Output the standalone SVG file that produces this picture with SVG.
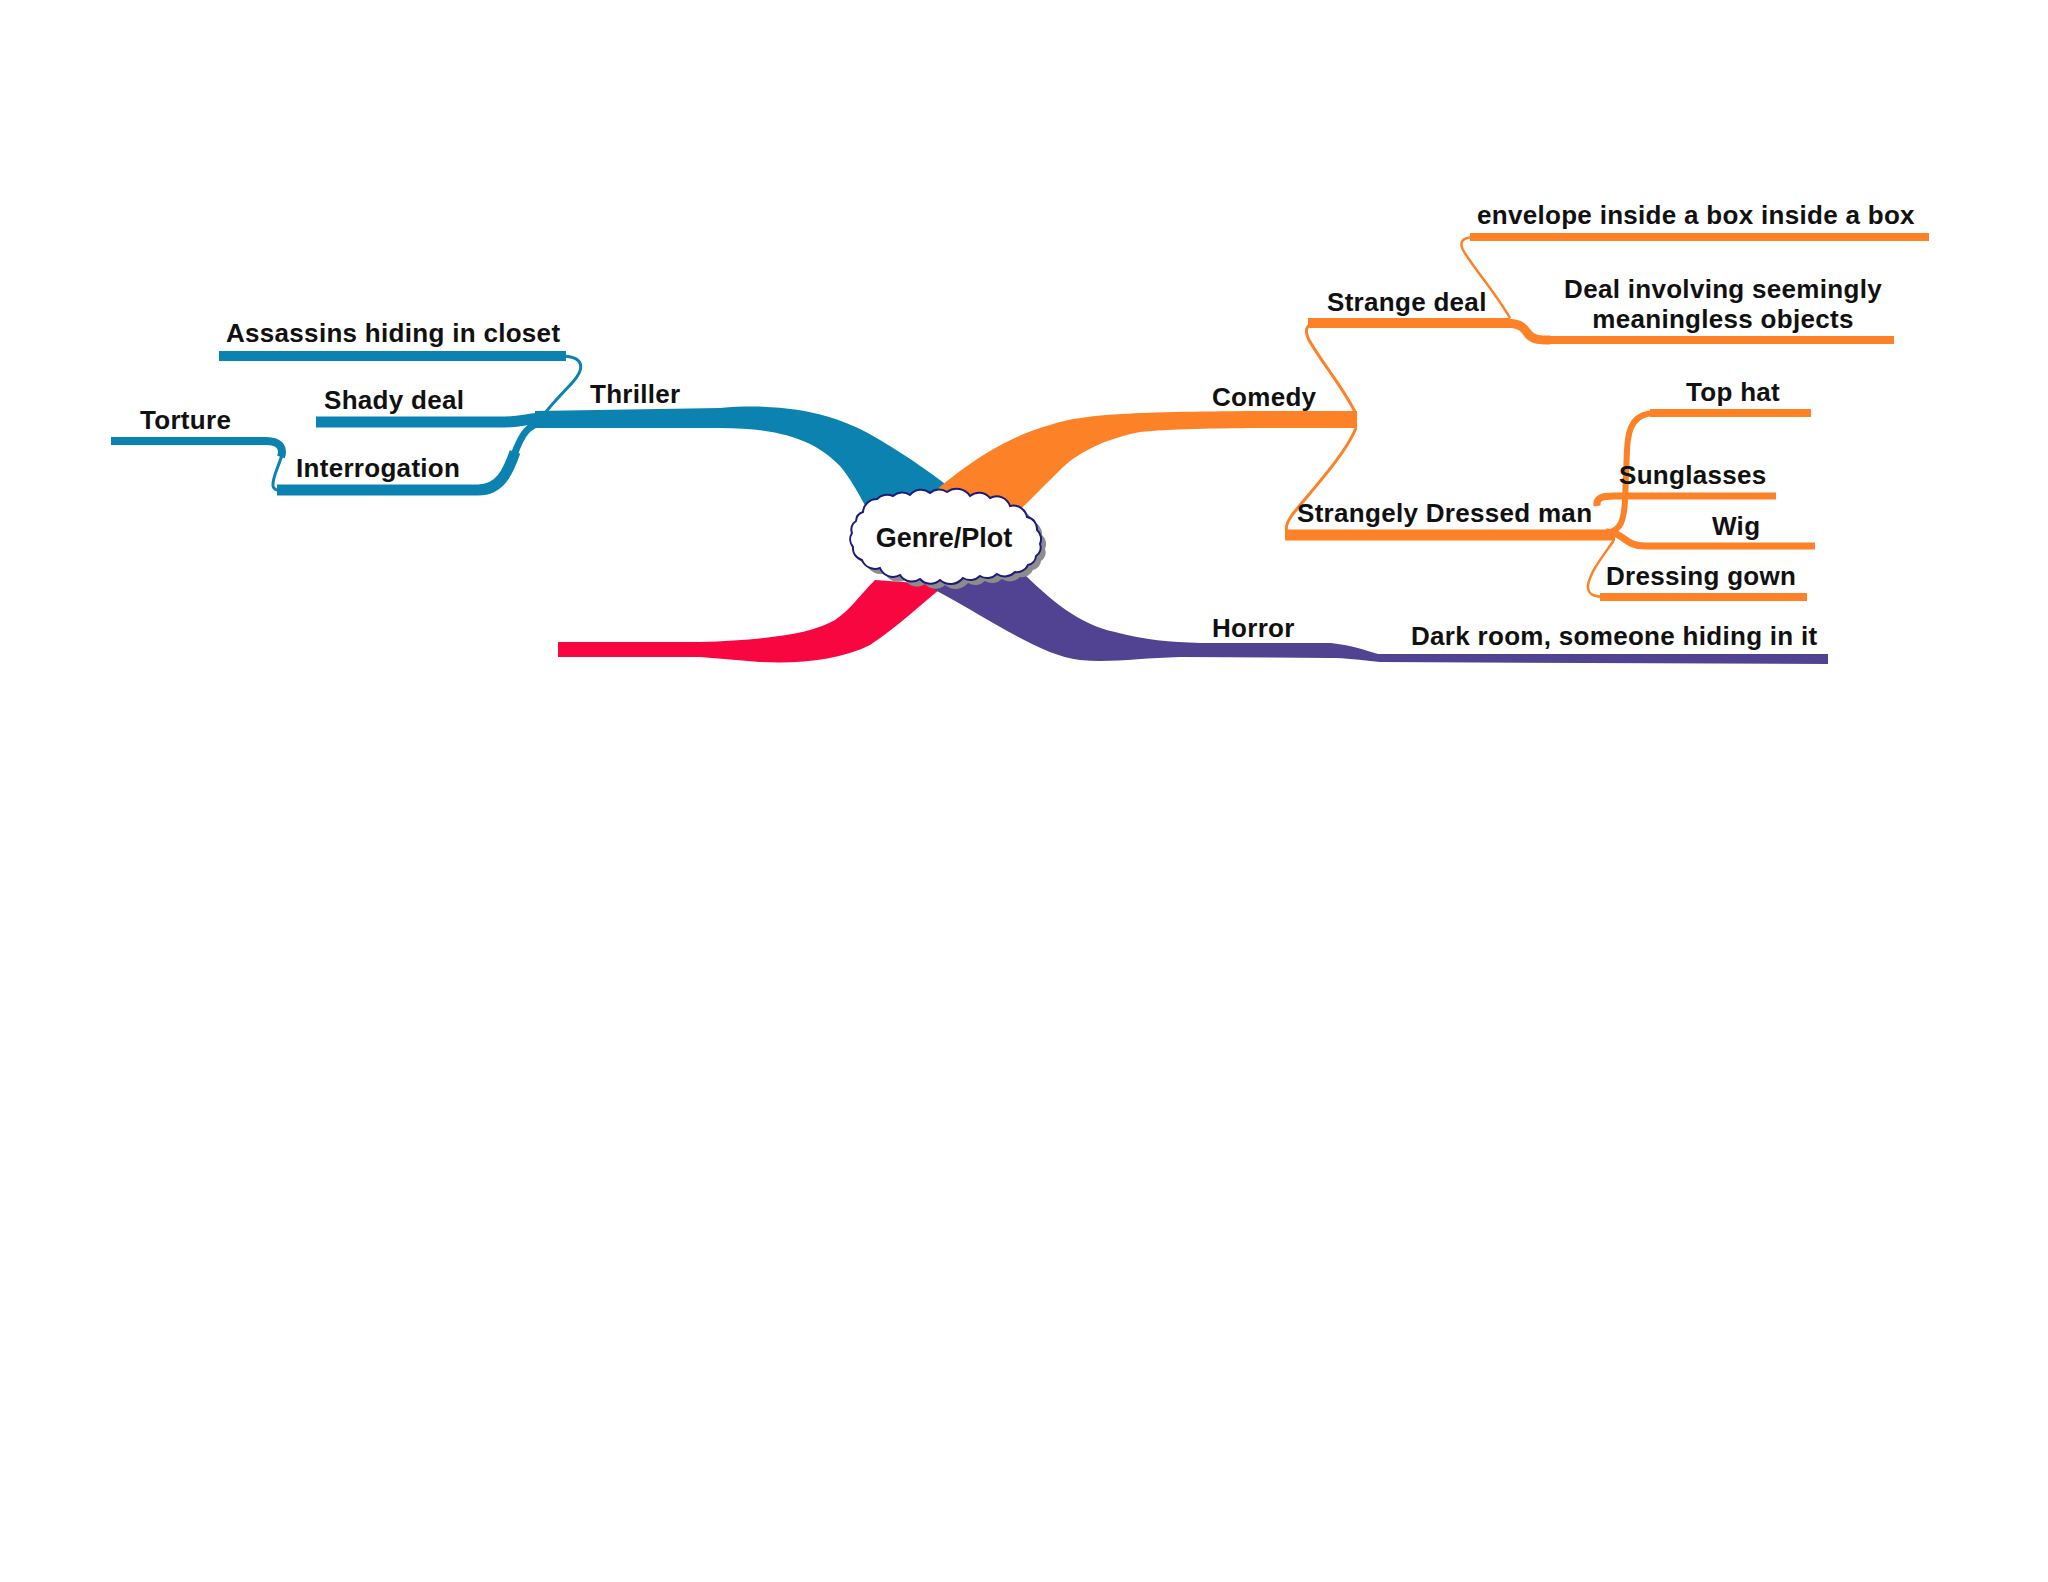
<svg xmlns="http://www.w3.org/2000/svg" width="2048" height="1582" viewBox="0 0 2048 1582">
<defs>
<style>
.t{font-family:"Liberation Sans",Arial,sans-serif;font-weight:bold;font-size:26px;fill:#111;letter-spacing:0.3px;}
.c{font-size:27px;letter-spacing:0;}
.b{stroke:#0B82AF;fill:none;}
.o{stroke:#FD8126;fill:none;}
.p{stroke:#514391;fill:none;}
</style>
<path id="cloud" d="M863,512 A14,14 0 0 1 877,499 A14,14 0 0 1 893,496 A14,14 0 0 1 910,495 A14,14 0 0 1 930,493 A14,14 0 0 1 947,492 A16,16 0 0 1 970,496 A14,14 0 0 1 990,498 A14,14 0 0 1 1010,506 A14,14 0 0 1 1027,517 A12,12 0 0 1 1037,530 A12,12 0 0 1 1040,544 A10,10 0 0 1 1036,556 A10,10 0 0 1 1028,565 A12,12 0 0 1 1015,572 A14,14 0 0 1 997,574 A14,14 0 0 1 980,576 A14,14 0 0 1 963,578 A16,16 0 0 1 940,580 A14,14 0 0 1 920,579 A14,14 0 0 1 900,575 A14,14 0 0 1 880,568 A14,14 0 0 1 862,560 A12,12 0 0 1 853,547 A12,12 0 0 1 852,533 A10,10 0 0 1 856,521 A10,10 0 0 1 863,512 Z"/>
</defs>
<rect width="2048" height="1582" fill="#fff"/>
<g id="connectors">
<path fill="#0B82AF" d="M535,411 L720,408 C790,402 840,415 880,440 C910,458 935,475 965,500 L870,515 C860,495 850,478 840,466 C815,440 780,428 720,428 L535,428 Z"/>
<path fill="#FD8126" d="M915,510 C945,480 995,440 1050,425 C1090,412 1150,411 1357,411 L1357,428 C1250,428 1180,428 1140,432 C1100,440 1075,455 1060,470 C1040,490 1025,505 1010,520 Z"/>
<path fill="#F8063F" d="M558,642 L700,642 C760,640 810,635 835,620 C850,610 860,595 875,580 L945,585 C920,605 900,625 870,645 C840,660 800,664 760,662 L700,657 L558,657 Z"/>
<path fill="#514391" d="M935,586 L1020,570 C1050,600 1080,625 1115,632 C1145,640 1170,642 1200,643 L1331,643 C1350,645 1365,650 1378,654 L1828,654 L1828,664 L1380,662 C1360,660 1345,658 1331,658 L1180,657 C1140,658 1110,663 1080,660 C1040,655 1000,625 935,590 Z"/>
<path class="b" stroke-width="10" d="M219,356 H566"/>
<path class="b" stroke-width="3" d="M564,356 C588,358 582,372 572,383 C558,398 546,410 540,420"/>
<path class="b" stroke-width="11" d="M316,422 H505 C522,422 530,418 545,418"/>
<path class="b" stroke-width="8" d="M111,441 H266 C280,441 284,448 281,457"/>
<path class="b" stroke-width="3" d="M282,455 C278,468 272,478 273,486 C274,491 280,491 290,491"/>
<path class="b" stroke-width="11" d="M277,490 H478 C500,490 508,472 515,452"/>
<path class="b" stroke-width="7" d="M514,455 C522,433 528,424 548,420"/>
<path class="o" stroke-width="3" d="M1356,414 C1345,390 1320,360 1309,340 C1303,328 1308,323 1318,323"/>
<path class="o" stroke-width="10" d="M1308,323 H1510"/>
<path class="o" stroke-width="9" d="M1505,323 C1523,323 1525,330 1529,335 C1534,340 1540,340 1550,340"/>
<path class="o" stroke-width="8" d="M1545,340 H1894"/>
<path class="o" stroke-width="2.5" d="M1510,318 C1495,292 1472,266 1463,250 C1458,240 1465,237 1476,237"/>
<path class="o" stroke-width="8" d="M1470,237 H1929"/>
<path class="o" stroke-width="3" d="M1356,428 C1345,455 1312,490 1292,515 C1283,528 1285,535 1296,535"/>
<path class="o" stroke-width="11" d="M1285,535 H1615"/>
<path class="o" stroke-width="6" d="M1608,533 C1621,530 1624,520 1625,500 L1627,450 C1628,425 1635,413 1656,413"/>
<path class="o" stroke-width="8" d="M1650,413 H1811"/>
<path class="o" stroke-width="7" d="M1597,506 C1596,498 1601,496 1614,496 H1776"/>
<path class="o" stroke-width="7" d="M1606,532 C1624,532 1624,546 1645,546 H1815"/>
<path class="o" stroke-width="2.5" d="M1614,540 C1604,555 1591,570 1588,585 C1587,594 1593,597 1606,597"/>
<path class="o" stroke-width="8" d="M1600,597 H1807"/>
</g>
<g id="center">
<use href="#cloud" transform="translate(5,5)" fill="#8c8c8c"/>
<use href="#cloud" fill="#fff" stroke="#1b1b7a" stroke-width="2"/>
<text class="t c" x="944" y="547" text-anchor="middle">Genre/Plot</text>
</g>
<g id="thriller"><text class="t" x="590" y="403">Thriller</text></g>
<g id="assassins"><text class="t" x="226" y="342">Assassins hiding in closet</text></g>
<g id="shady"><text class="t" x="324" y="409">Shady deal</text></g>
<g id="torture"><text class="t" x="140" y="429">Torture</text></g>
<g id="interrogation"><text class="t" x="296" y="477">Interrogation</text></g>
<g id="comedy"><text class="t" x="1212" y="406">Comedy</text></g>
<g id="strangedeal"><text class="t" x="1327" y="311">Strange deal</text></g>
<g id="envelope"><text class="t" x="1477" y="224">envelope inside a box inside a box</text></g>
<g id="dealinvolving"><text class="t" x="1723" y="298" text-anchor="middle">Deal involving seemingly</text><text class="t" x="1723" y="328" text-anchor="middle">meaningless objects</text></g>
<g id="strangely"><text class="t" x="1297" y="522">Strangely Dressed man</text></g>
<g id="tophat"><text class="t" x="1686" y="401">Top hat</text></g>
<g id="sunglasses"><text class="t" x="1619" y="484">Sunglasses</text></g>
<g id="wig"><text class="t" x="1712" y="535">Wig</text></g>
<g id="dressinggown"><text class="t" x="1606" y="585">Dressing gown</text></g>
<g id="horror"><text class="t" x="1212" y="637">Horror</text></g>
<g id="darkroom"><text class="t" x="1411" y="645">Dark room, someone hiding in it</text></g>
</svg>
